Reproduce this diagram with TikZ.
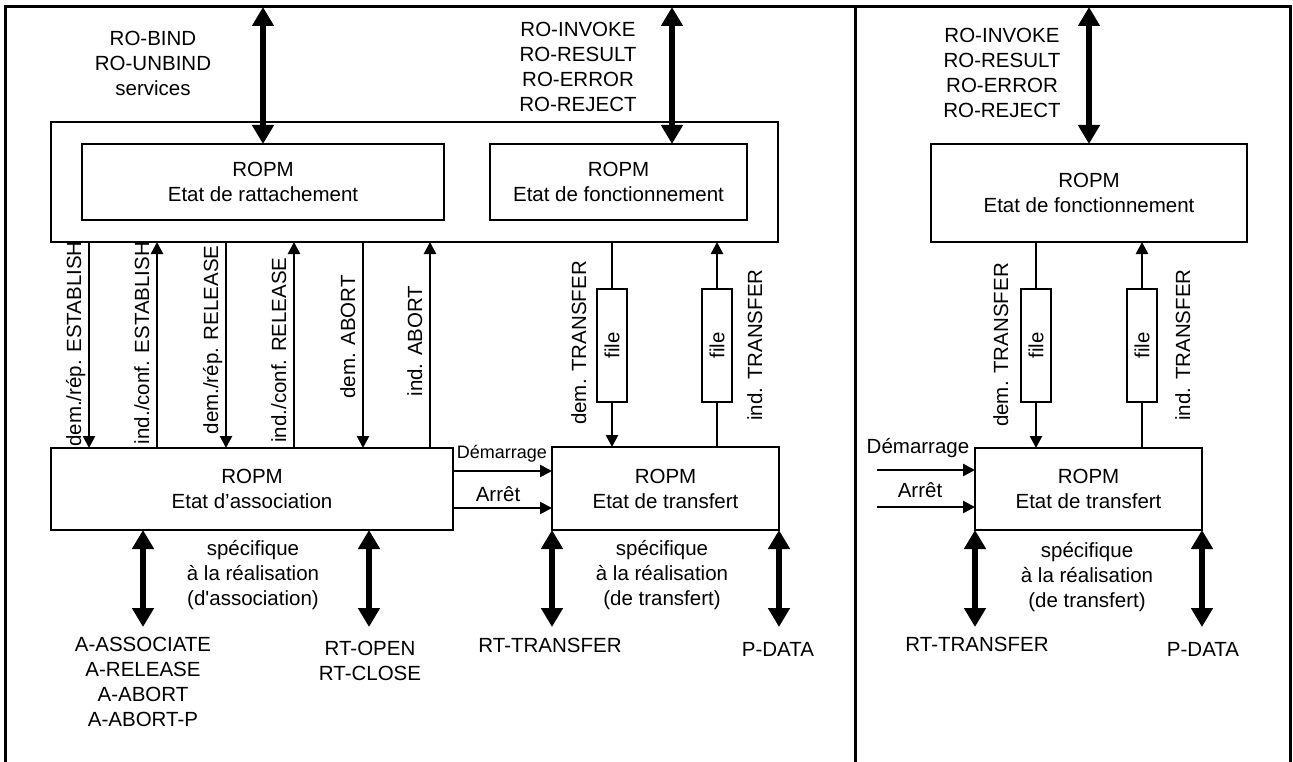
\documentclass[tikz,border=0pt]{standalone}
\usepackage{fontspec}
\setmainfont{Liberation Sans}
\usetikzlibrary{arrows.meta}
\begin{document}
\begin{tikzpicture}[x=1pt,y=-1pt,
  every node/.style={inner sep=0pt, outer sep=0pt, font=\fontsize{20.5}{25}\selectfont},
  box/.style={draw, line width=2.6pt, anchor=north west, align=center},
  filebox/.style={draw, line width=2.3pt, anchor=north west, minimum width=30pt, minimum height=113pt},
  sline/.style={line width=2.6pt},
  sarrow/.style={line width=2.6pt, -{Triangle[length=12pt,width=12pt]}},
  darrow/.style={line width=6pt, {Triangle[length=19pt,width=21pt]}-{Triangle[length=19pt,width=21pt]}},
  lbl/.style={align=center, anchor=north},
  vlbl/.style={rotate=90, anchor=base},
  smallfont/.style={font=\fontsize{18}{22}\selectfont}
]
\useasboundingbox (0,0) rectangle (1293,762);
\clip (0,0) rectangle (1293,762);
% frame
\draw[line width=3pt] (5,800) -- (5,7) -- (1290,7) -- (1290,800);
\draw[line width=3pt] (855,7) -- (855,800);

% boxes, left panel
\node[box, minimum width=727pt, minimum height=120pt] (outerL) at (51,122) {};
\node[box, minimum width=362pt, minimum height=76pt] (ratt) at (82,144) {ROPM\\Etat de rattachement};
\node[box, minimum width=257pt, minimum height=76pt] (fonctL) at (490,144) {ROPM\\Etat de fonctionnement};
\node[box, minimum width=402pt, minimum height=82pt] (assoc) at (51,448) {ROPM\\Etat d’association};
\node[box, minimum width=227pt, minimum height=83pt] (transL) at (552,447) {ROPM\\Etat de transfert};
% boxes, right panel
\node[box, minimum width=316pt, minimum height=98pt] (fonctR) at (931,144) {ROPM\\Etat de fonctionnement};
\node[box, minimum width=227pt, minimum height=82pt] (transR) at (975,448) {ROPM\\Etat de transfert};

% file boxes
\node[filebox] (f1) at (597,289) {};
\node[filebox] (f2) at (702,289) {};
\node[filebox] (f3) at (1021,289) {};
\node[filebox] (f4) at (1127,289) {};
\node[rotate=90] (f1t) at (f1.center) {file};
\node[rotate=90] (f2t) at (f2.center) {file};
\node[rotate=90] (f3t) at (f3.center) {file};
\node[rotate=90] (f4t) at (f4.center) {file};

% top thick arrows
\coordinate (t1) at (263,7);
\coordinate (t2) at (672,7);
\coordinate (t3) at (1089,7);
\draw[darrow] (t1) -- (ratt.north -| t1);
\draw[darrow] (t2) -- (fonctL.north -| t2);
\draw[darrow] (t3) -- (fonctR.north -| t3);

% top labels
\node[lbl] (lbind) at (153,31) {RO-BIND\\RO-UNBIND\\services};
\node[lbl] (linvL) at (578,22) {RO-INVOKE\\RO-RESULT\\RO-ERROR\\RO-REJECT};
\node[lbl] (linvR) at (1002,28) {RO-INVOKE\\RO-RESULT\\RO-ERROR\\RO-REJECT};

% vertical association arrows
\coordinate (v1) at (89,0);
\coordinate (v2) at (157,0);
\coordinate (v3) at (226,0);
\coordinate (v4) at (294,0);
\coordinate (v5) at (363,0);
\coordinate (v6) at (430,0);
\draw[sarrow] (outerL.south -| v1) -- (assoc.north -| v1);
\draw[sarrow] (assoc.north -| v2) -- (outerL.south -| v2);
\draw[sarrow] (outerL.south -| v3) -- (assoc.north -| v3);
\draw[sarrow] (assoc.north -| v4) -- (outerL.south -| v4);
\draw[sarrow] (outerL.south -| v5) -- (assoc.north -| v5);
\draw[sarrow] (assoc.north -| v6) -- (outerL.south -| v6);

\node[vlbl] (l1) at (81,344) {dem./rép. ESTABLISH};
\node[vlbl] (l2) at (149,343) {ind./conf. ESTABLISH};
\node[vlbl] (l3) at (218,340) {dem./rép. RELEASE};
\node[vlbl] (l4) at (286,350) {ind./conf. RELEASE};
\node[vlbl] (l5) at (355,337) {dem. ABORT};
\node[vlbl] (l6) at (422,341) {ind. ABORT};

% transfer arrows left
\draw[sline] (outerL.south -| f1.center) -- (f1.north);
\draw[sarrow] (f1.south) -- (transL.north -| f1.center);
\draw[sline] (transL.north -| f2.center) -- (f2.south);
\draw[sarrow] (f2.north) -- (outerL.south -| f2.center);
\node[vlbl] (l7) at (586,343) {dem. TRANSFER};
\node[vlbl] (l8) at (762,345) {ind. TRANSFER};

% transfer arrows right
\draw[sline] (fonctR.south -| f3.center) -- (f3.north);
\draw[sarrow] (f3.south) -- (transR.north -| f3.center);
\draw[sline] (transR.north -| f4.center) -- (f4.south);
\draw[sarrow] (f4.north) -- (fonctR.south -| f4.center);
\node[vlbl] (l9) at (1008,345) {dem. TRANSFER};
\node[vlbl] (l10) at (1190,345) {ind. TRANSFER};

% Démarrage / Arrêt
\coordinate (dm) at (0,471);
\coordinate (ar) at (0,508);
\draw[sarrow] (assoc.east |- dm) -- (transL.west |- dm);
\draw[sarrow] (assoc.east |- ar) -- (transL.west |- ar);
\node[lbl, smallfont] (ldemL) at (502,445) {Démarrage};
\node[lbl] (larrL) at (498,487) {Arrêt};
\coordinate (dR) at (877,470);
\coordinate (aR) at (877,507);
\draw[sarrow] (dR) -- (transR.west |- dR);
\draw[sarrow] (aR) -- (transR.west |- aR);
\node[lbl] (ldemR) at (918,438) {Démarrage};
\node[lbl] (larrR) at (920,483) {Arrêt};

% bottom thick arrows
\coordinate (b1) at (143,627);
\coordinate (b2) at (369,627);
\coordinate (b3) at (552,627);
\coordinate (b4) at (779,627);
\coordinate (b5) at (975,627);
\coordinate (b6) at (1202,627);
\draw[darrow] (assoc.south -| b1) -- (b1);
\draw[darrow] (assoc.south -| b2) -- (b2);
\draw[darrow] (transL.south west) -- (b3);
\draw[darrow] (transL.south east) -- (b4);
\draw[darrow] (transR.south west) -- (b5);
\draw[darrow] (transR.south east) -- (b6);

% bottom labels
\node[lbl] (sp1) at (253,540) {spécifique\\à la réalisation\\(d\textquotesingle association)};
\node[lbl] (sp2) at (662,540) {spécifique\\à la réalisation\\(de transfert)};
\node[lbl] (sp3) at (1087,542) {spécifique\\à la réalisation\\(de transfert)};
\node[lbl] (la) at (143,637) {A-ASSOCIATE\\A-RELEASE\\A-ABORT\\A-ABORT-P};
\node[lbl] (lrt) at (370,641) {RT-OPEN\\RT-CLOSE};
\node[lbl] (lrtt1) at (550,638) {RT-TRANSFER};
\node[lbl] (lpd1) at (778,642) {P-DATA};
\node[lbl] (lrtt2) at (977,637) {RT-TRANSFER};
\node[lbl] (lpd2) at (1203,642) {P-DATA};
\end{tikzpicture}
\end{document}
